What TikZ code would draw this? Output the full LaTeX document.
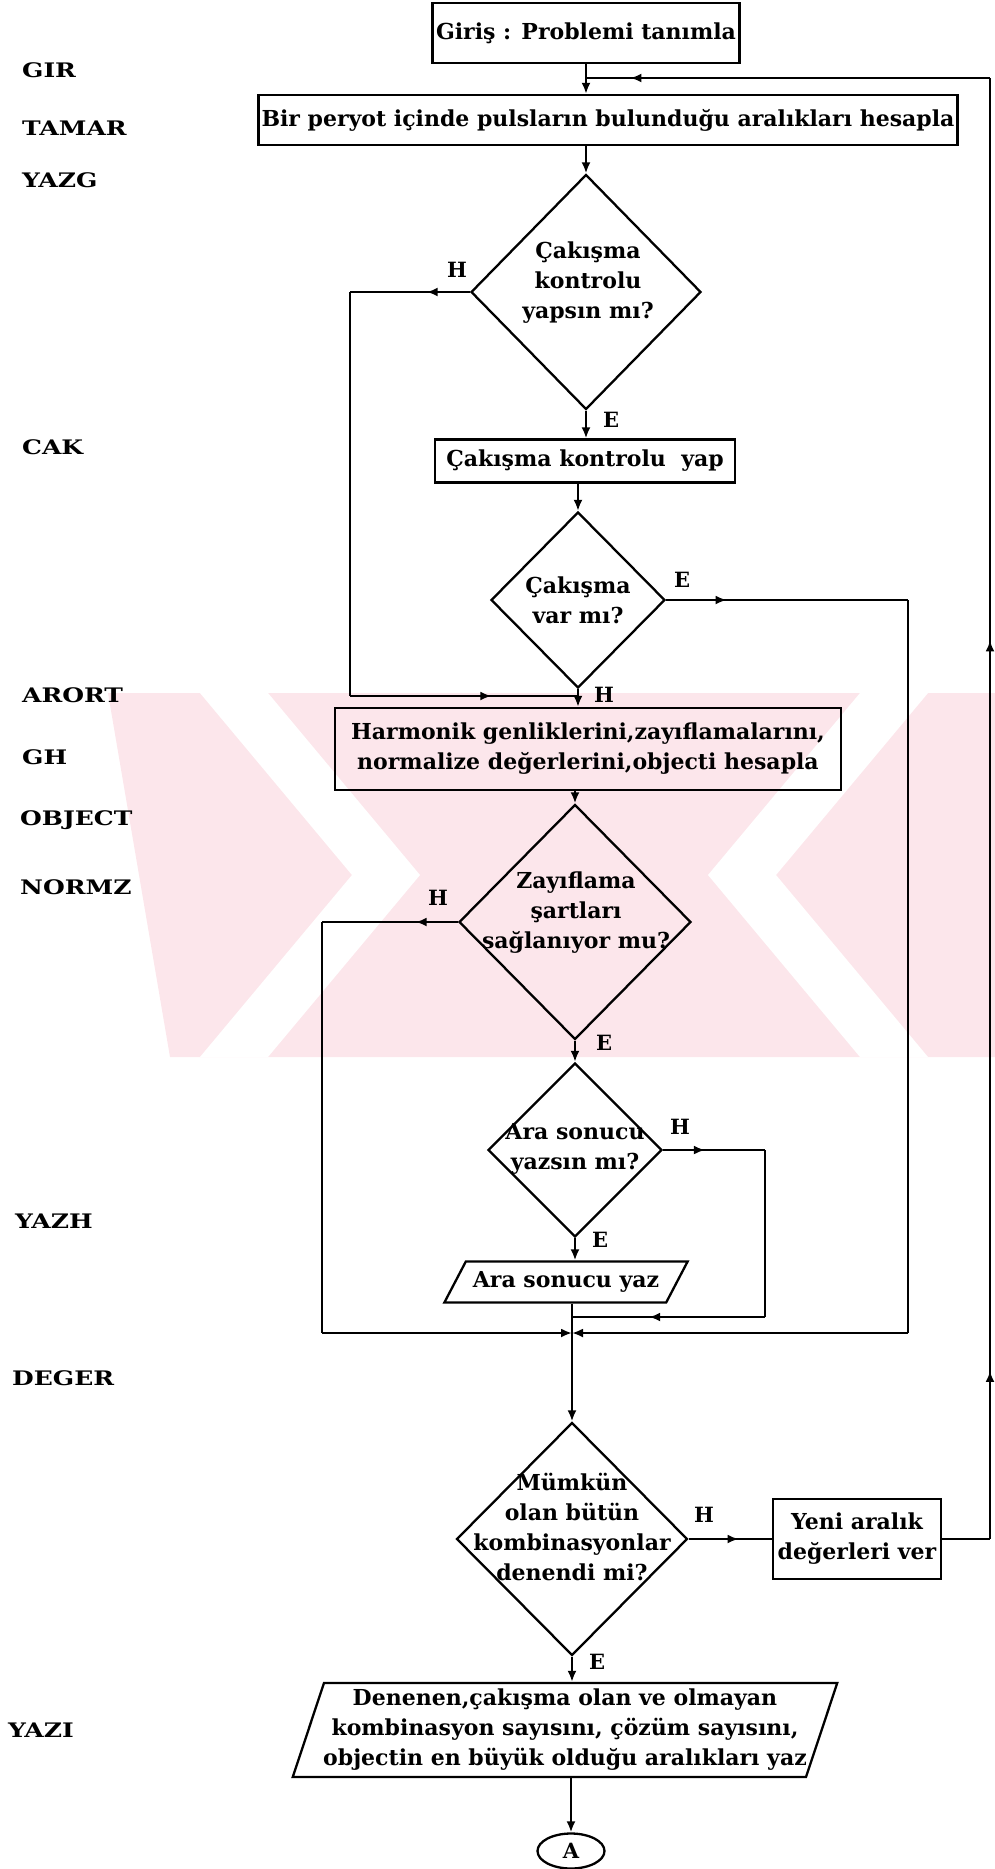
\documentclass[tikz,border=0pt]{standalone}
\usepackage{fontspec}
\setmainfont{DejaVu Serif}[UprightFont=* Bold, FakeStretch=1.0]
\newfontfamily\labfont{DejaVu Serif}[UprightFont=* Bold, FakeStretch=1.25]
\usetikzlibrary{shapes.geometric,arrows.meta,decorations.markings}
\newcommand\mf{\fontsize{22}{30}\selectfont}
\newcommand\lf{\labfont\fontsize{20}{24}\selectfont}
\newcommand\hf{\fontsize{21}{24}\selectfont}
\definecolor{wmpink}{RGB}{252,230,235}
\tikzset{
 ln/.style={line width=2.3pt},
 arr/.style={ln, -{Latex[length=11pt,width=9pt]}},
 marr/.style={ln, postaction={decorate}, decoration={markings, mark=at position #1 with {\arrow{Latex[length=11pt,width=9pt]}}}},
 box/.style={draw, ln, rectangle, inner sep=0pt, align=center, font=\mf},
 dia/.style={draw, ln, diamond, inner sep=0pt},
 par/.style={draw, ln, trapezium, trapezium stretches=true, inner sep=0pt, align=center, font=\mf},
 dtxt/.style={align=center, font=\mf, inner sep=0pt},
 side/.style={anchor=west, font=\lf, inner sep=0pt},
 yn/.style={font=\hf, inner sep=0pt},
}
\begin{document}
\begin{tikzpicture}[x=1pt,y=-1pt]
\useasboundingbox (0,0) rectangle (995,1869);
% watermark
\fill[wmpink] (108,693) -- (995,693) -- (995,1057) -- (170,1057) -- cycle;
\fill[white] (200,693) -- (268,693) -- (420,875) -- (268,1057) -- (200,1057) -- (352,875) -- cycle;
\fill[white] (860,693) -- (928,693) -- (776,875) -- (928,1057) -- (860,1057) -- (708,875) -- cycle;
% side labels
\node[side] (sGIR) at (22,70) {GIR};
\node[side] (sTAMAR) at (22,128) {TAMAR};
\node[side] (sYAZG) at (22,180) {YAZG};
\node[side] (sCAK) at (22,447) {CAK};
\node[side] (sARORT) at (22,695) {ARORT};
\node[side] (sGH) at (22,757) {GH};
\node[side] (sOBJECT) at (20,820) {OBJECT};
\node[side] (sNORMZ) at (20,887) {NORMZ};
\node[side] (sYAZH) at (15,1221) {YAZH};
\node[side] (sDEGER) at (12,1378) {DEGER};
\node[side] (sYAZI) at (8,1730) {YAZI};
% nodes
\node[box, minimum width=307pt, minimum height=60pt] (box1) at (586,33) {Giriş : Problemi tanımla};
\node[box, minimum width=699pt, minimum height=50pt] (box2) at (608,120) {Bir peryot içinde pulsların bulunduğu aralıkları hesapla};
\node[dia, minimum width=230pt, minimum height=235pt] (d1) at (586,292) {};
\node[dtxt] (t1) at (588,283) {Çakışma\\kontrolu\\yapsın mı?};
\node[box, minimum width=300pt, minimum height=43pt] (box3) at (585,461) {Çakışma kontrolu\ \ yap};
\node[dia, minimum width=174pt, minimum height=176pt] (d2) at (578,600) {};
\node[dtxt] (t2) at (578,600) {Çakışma\\var mı?};
\node[box, minimum width=506pt, minimum height=82pt] (box4) at (588,749) {Harmonik genliklerini,zayıflamalarını,\\normalize değerlerini,objecti hesapla};
\node[dia, minimum width=232pt, minimum height=235pt] (d3) at (575,922) {};
\node[dtxt] (t3) at (576,913) {Zayıflama\\şartları\\sağlanıyor mu?};
\node[dia, minimum width=174pt, minimum height=174pt] (d4) at (575,1150) {};
\node[dtxt] (t4) at (575,1149) {Ara sonucu\\yazsın mı?};
\node[par, trapezium left angle=46.4, trapezium right angle=133.6, minimum width=244pt, minimum height=41pt] (par1) at (566,1282) {Ara sonucu yaz};
\node[dia, minimum width=231pt, minimum height=233pt] (d5) at (572,1539) {};
\node[dtxt] (t5) at (572,1527) {Mümkün\\olan bütün\\kombinasyonlar\\denendi mi?};
\node[box, minimum width=168pt, minimum height=80pt] (box5) at (857,1539) {Yeni aralık\\değerleri ver};
\node[par, trapezium left angle=69, trapezium right angle=111, minimum width=549pt, minimum height=94pt] (par2) at (565,1730) {Denenen,çakışma olan ve olmayan\\kombinasyon sayısını, çözüm sayısını,\\objectin en büyük olduğu aralıkları yaz};
\node[draw, ln, ellipse, inner sep=0pt, minimum width=67pt, minimum height=35pt, font=\hf] (A) at (571,1851) {A};
% yes/no labels
\node[yn] (h1) at (457,270) {H};
\node[yn] (e1) at (611,420) {E};
\node[yn] (e2) at (682,580) {E};
\node[yn] (h2) at (604,695) {H};
\node[yn] (h3) at (438,898) {H};
\node[yn] (e3) at (604,1043) {E};
\node[yn] (h4) at (680,1127) {H};
\node[yn] (e4) at (600,1240) {E};
\node[yn] (h5) at (704,1515) {H};
\node[yn] (e5) at (597,1662) {E};
% helper coordinates
\coordinate (rr) at (990,78);
\coordinate (L1) at (350,696);
\coordinate (R1) at (908,1333);
\coordinate (L2) at (322,1333);
\coordinate (R2) at (765,1317);
% connectors
\draw[arr] (box1.south) -- (box1.south |- box2.north);
\draw[arr] (d1.north |- box2.south) -- (d1.north);
\draw[marr=0.36] (d1.west) -- (d1.west -| L1);
\draw[ln] (d1.west -| L1) -- (L1);
\draw[marr=0.62] (L1) -- (L1 -| d2.south);
\draw[arr] (d1.south) -- (d1.south |- box3.north);
\draw[arr] (d2.north |- box3.south) -- (d2.north);
\draw[marr=0.25] (d2.east) -- (d2.east -| R1);
\draw[ln] (d2.east -| R1) -- (R1);
\draw[arr] (R1) -- (R1 -| d5.north);
\draw[arr] (d2.south) -- (d2.south |- box4.north);
\draw[arr] (d3.north |- box4.south) -- (d3.north);
\draw[marr=0.31] (d3.west) -- (d3.west -| L2);
\draw[ln] (d3.west -| L2) -- (L2);
\draw[arr] (L2) -- (L2 -| d5.north);
\draw[arr] (d3.south) -- (d4.north);
\draw[marr=0.41] (d4.east) -- (d4.east -| R2);
\draw[ln] (d4.east -| R2) -- (R2);
\draw[marr=0.6] (R2) -- (R2 -| d5.north);
\draw[arr] (d4.south) -- (d4.south |- par1.north);
\draw[arr] (d5.north |- par1.south) -- (d5.north);
\draw[marr=0.6] (d5.east) -- (box5.west);
\draw[ln] (box5.east) -- (box5.east -| rr);
\draw[ln, postaction={decorate}, decoration={markings, mark=at position 0.115 with {\arrow{Latex[length=11pt,width=9pt]}}, mark=at position 0.615 with {\arrow{Latex[length=11pt,width=9pt]}}}] (box5.east -| rr) -- (rr);
\draw[marr=0.89] (rr) -- (box1.south |- rr);
\draw[arr] (d5.south) -- (d5.south |- par2.north);
\draw[arr] (A.north |- par2.south) -- (A.north);
\end{tikzpicture}
\end{document}
